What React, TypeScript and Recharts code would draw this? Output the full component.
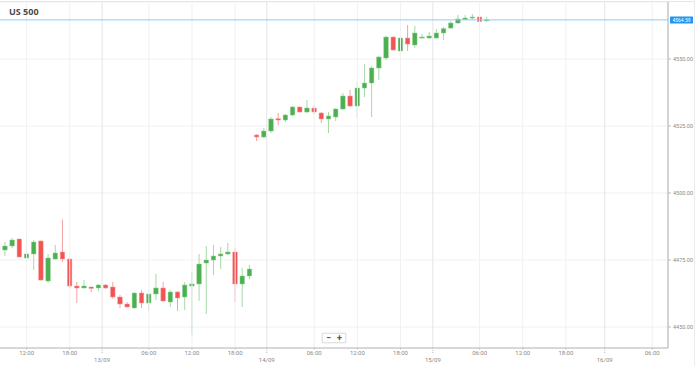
import React from 'react';
import { ComposedChart, Bar, XAxis, YAxis, CartesianGrid, ReferenceLine } from 'recharts';

const title = 'US 500';
const lastPrice = 4564.59;

const opens = [
  4479.85, 4478.73, 4480.22, 4482.83, 4475.74, 4477.24, 4482.09, 4467.16, 4475.37, 4477.98,
  4475.37, 4465.29, 4464.55, 4464.92, 4464.55, 4465.67, 4464.92, 4461.19, 4458.58, 4457.09,
  4462.68, 4458.95, 4462.31, 4464.55, 4459.32, 4463.05, 4461.19, 4465.29, 4466.04, 4473.87,
  4474.99, 4476.49, 4477.24, 4477.98, 4466.04, 4469.03,
  4521.64, 4520.89, 4523.13, 4527.72, 4527.23, 4529.1, 4532.08, 4530.22, 4531.71, 4529.85,
  4527.61, 4528.36, 4531.34, 4536.19, 4532.46, 4539.17, 4541.04, 4546.64, 4550.37, 4558.2,
  4552.98, 4557.83, 4555.22, 4557.83, 4557.83, 4557.83, 4559.7, 4561.56, 4563.43, 4564.66,
  4565.29, 4565.67, 4564.29,
];

const closes = [
  4479.1, 4480.22, 4482.46, 4476.12, 4477.24, 4481.71, 4467.53, 4475.74, 4477.61, 4475.37,
  4465.29, 4464.55, 4465.29, 4464.4, 4465.67, 4464.55, 4461.19, 4458.58, 4457.46, 4462.68,
  4458.95, 4462.31, 4464.55, 4459.7, 4463.05, 4460.82, 4465.67, 4466.04, 4473.5, 4474.99,
  4476.49, 4477.24, 4477.98, 4466.04, 4469.03, 4471.64,
  4520.89, 4523.13, 4527.61, 4527.23, 4529.1, 4532.08, 4530.22, 4531.71, 4530.22, 4527.61,
  4528.73, 4531.34, 4536.19, 4532.46, 4539.17, 4541.04, 4546.64, 4550.74, 4558.2, 4553.35,
  4557.83, 4555.59, 4559.7, 4558.2, 4558.58, 4559.7, 4561.3, 4563.43, 4564.92, 4565.29,
  4565.67, 4563.91, 4564.59,
];

const highs = [
  4480.22, 4481.71, 4483.21, 4483.0, 4483.21, 4482.46, 4482.3, 4477.24, 4480.59, 4490.12,
  4476.12, 4466.79, 4467.53, 4465.1, 4466.04, 4466.04, 4466.79, 4461.94, 4459.32, 4462.87,
  4463.8, 4462.5, 4469.79, 4466.79, 4463.8, 4463.43, 4466.79, 4470.53, 4477.24, 4480.22,
  4480.59, 4479.85, 4481.34, 4479.48, 4472.01, 4473.13,
  4522.01, 4524.25, 4528.36, 4529.85, 4529.47, 4532.46, 4532.27, 4534.7, 4532.83, 4530.22,
  4530.22, 4531.71, 4537.31, 4538.43, 4541.41, 4548.13, 4547.39, 4551.12, 4558.58, 4558.4,
  4558.2, 4562.68, 4562.31, 4559.32, 4560.07, 4561.19, 4561.94, 4564.17, 4566.41, 4566.41,
  4566.79, 4565.78, 4565.78,
];

const lows = [
  4478.73, 4476.49, 4479.48, 4475.9, 4475.5, 4471.26, 4467.35, 4466.42, 4474.99, 4474.25,
  4464.55, 4458.95, 4464.4, 4463.05, 4463.43, 4464.18, 4460.44, 4457.09, 4457.27, 4456.9,
  4457.09, 4455.97, 4460.07, 4459.32, 4457.46, 4455.97, 4456.34, 4447.01, 4459.7, 4454.85,
  4469.4, 4471.64, 4476.86, 4459.32, 4457.46, 4467.9,
  4519.4, 4520.52, 4522.38, 4525.37, 4526.49, 4528.73, 4530.03, 4529.85, 4529.47, 4526.12,
  4522.38, 4526.86, 4530.97, 4532.08, 4527.98, 4535.82, 4528.36, 4542.16, 4549.62, 4553.2,
  4551.12, 4552.98, 4554.1, 4557.46, 4557.6, 4557.6, 4557.09, 4561.19, 4563.06, 4564.55,
  4564.55, 4562.31, 4563.91,
];

// x tick positions (candle index units) and labels
const xTickPositions = [4, 10, 14.5, 21, 27, 33, 37.4, 44, 50, 56, 60.5, 67, 73, 79, 84.4, 91];
const xTickLabels = ['12:00', '18:00', '13/09', '06:00', '12:00', '18:00', '14/09', '06:00', '12:00', '18:00', '15/09', '06:00', '12:00', '18:00', '16/09', '06:00'];
const yTicks = [4450, 4475, 4500, 4525, 4550];

const data = opens.map((o, i) => ({
  idx: i,
  open: o,
  close: closes[i],
  high: highs[i],
  low: lows[i],
  range: [lows[i], highs[i]],
}));

const UP = '#4caf50';
const UP_LIGHT = '#a8d8aa';
const DOWN = '#f25454';
const DOWN_LIGHT = '#f5a3a3';

const Candle = (props: any) => {
  const { x, y, width, height, payload } = props;
  if (x == null || y == null) return null;
  const top = Math.min(y, y + height);
  const h = Math.abs(height);
  const { open, close, high, low } = payload;
  const ppu = h / (high - low);
  const cx = x + width / 2;
  const bTop = top + (high - Math.max(open, close)) * ppu;
  const bBot = top + (high - Math.min(open, close)) * ppu;
  const bh = Math.max(1, bBot - bTop);
  const up = close >= open;
  return (
    <g>
      <line x1={cx} x2={cx} y1={top} y2={top + h} stroke={up ? UP_LIGHT : DOWN_LIGHT} strokeWidth={1} />
      <rect x={x + 0.25} y={bTop} width={width - 0.5} height={bh} fill={up ? UP : DOWN} stroke={up ? '#8fd092' : '#f79a9a'} strokeWidth={0.5} />
    </g>
  );
};

const XTick = (props: any) => {
  const { x, y, payload } = props;
  const i = xTickPositions.indexOf(payload.value);
  const label = i >= 0 ? xTickLabels[i] : '';
  const isDate = label.includes('/');
  return (
    <g>
      {isDate ? (
        <line x1={x} x2={x} y1={y} y2={y + 6} stroke="#bbb" strokeWidth={1} strokeDasharray="1 1" />
      ) : (
        <line x1={x} x2={x} y1={y} y2={y + 1.5} stroke="#bbb" strokeWidth={1} />
      )}
      <text x={x} y={isDate ? y + 14 : y + 6.5} textAnchor="middle" fontSize={6} fill="#8a8a8a" fontFamily="Roboto, sans-serif">
        {label}
      </text>
    </g>
  );
};

const PriceLabel = (props: any) => {
  const { viewBox } = props;
  if (!viewBox) return null;
  const bx = viewBox.x + viewBox.width + 2;
  const by = viewBox.y;
  return (
    <g>
      <rect x={bx} y={by - 3.5} width={23} height={7} fill="#2196f3" rx={0.5} />
      <text x={bx + 11.5} y={by + 1.8} textAnchor="middle" fontSize={5} fill="#ffffff" fontFamily="Roboto, sans-serif">
        {lastPrice.toFixed(2)}
      </text>
    </g>
  );
};

export default function App() {
  return (
    <div style={{ position: 'absolute', left: 0, top: 0, width: 698, height: 366, background: '#fff', overflow: 'hidden' }}>
      <ComposedChart width={698} height={366} data={data} margin={{ top: 2, right: 0, bottom: 0, left: 0 }}>
        <CartesianGrid vertical={false} stroke="#f1f1f1" />
        {xTickPositions.map((t, i) => (
          <ReferenceLine
            key={'v' + i}
            x={t}
            stroke={xTickLabels[i].includes('/') ? '#e4e4e4' : '#f1f1f1'}
            strokeWidth={1}
          />
        ))}
        <XAxis
          dataKey="idx"
          type="number"
          domain={[0.3, 93.2]}
          allowDataOverflow
          ticks={xTickPositions}
          interval={0}
          height={18}
          tickSize={0}
          tickMargin={0}
          tickLine={false}
          axisLine={{ stroke: '#b8b8b8' }}
          tick={<XTick />}
        />
        <YAxis
          orientation="right"
          type="number"
          domain={[4442.16, 4571.27]}
          allowDataOverflow
          ticks={yTicks}
          width={30}
          tickSize={3}
          tickMargin={2}
          axisLine={{ stroke: '#a8a8a8' }}
          tickLine={{ stroke: '#bbb' }}
          tick={{ fontSize: 5.5, fill: '#8a8a8a', fontFamily: 'Roboto, sans-serif', textAnchor: 'start' }}
          tickFormatter={(v: number) => v.toFixed(2)}
        />
        <ReferenceLine y={lastPrice} stroke="#94c9f2" strokeWidth={1} label={<PriceLabel />} />
        <Bar dataKey="range" barSize={5} shape={<Candle />} isAnimationActive={false} />
      </ComposedChart>
      <div style={{ position: 'absolute', left: 0, top: 1, width: 695, height: 1, background: '#e6e6e6' }} />
      <div style={{ position: 'absolute', left: 694, top: 0, width: 1, height: 366, background: '#ececec' }} />
      <div
        style={{
          position: 'absolute',
          left: 9,
          top: 7,
          fontFamily: '"Open Sans", sans-serif',
          fontWeight: 700,
          fontSize: 9,
          lineHeight: '10px',
          color: '#4a4a4a',
        }}
      >
        {title}
      </div>
      <div
        style={{
          position: 'absolute',
          left: 322,
          top: 333,
          width: 24,
          height: 10,
          background: '#fff',
          border: '1px solid #e2e2e2',
          boxShadow: '0 0 2px rgba(0,0,0,0.12)',
          display: 'flex',
          alignItems: 'center',
          justifyContent: 'space-around',
          fontFamily: 'Roboto, sans-serif',
          fontSize: 9,
          fontWeight: 700,
          color: '#555',
          lineHeight: '10px',
          boxSizing: 'border-box',
        }}
      >
        <span>−</span>
        <span>+</span>
      </div>
    </div>
  );
}
